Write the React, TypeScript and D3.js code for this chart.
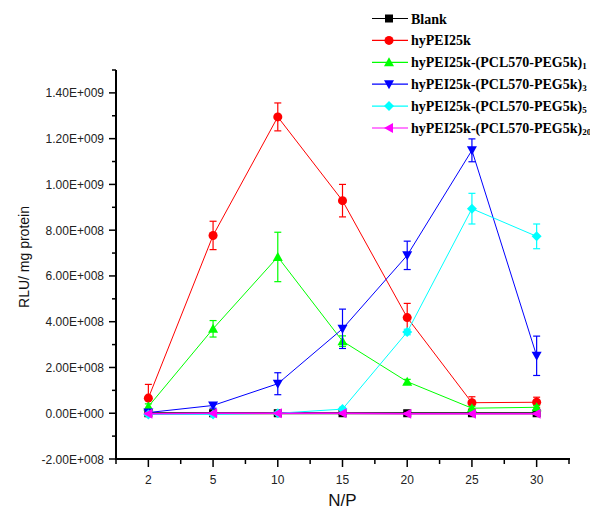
import React from "react";
import * as d3 from "d3";

const categories = ["2", "5", "10", "15", "20", "25", "30"];
const blank = [0, 0, 0, 0, 0, 0, 0];
const blankErr = [0, 0, 0, 0, 0, 0, 0];
const hyPEI = [6.6e7, 7.77e8, 1.295e9, 9.29e8, 4.18e8, 4.6e7, 4.8e7];
const hyPEIErr = [6.0e7, 6.2e7, 6.1e7, 7.1e7, 6.2e7, 2.6e7, 2.2e7];
const n1 = [2.9e7, 3.69e8, 6.83e8, 3.15e8, 1.38e8, 2.2e7, 2.6e7];
const n1Err = [1.2e7, 3.6e7, 1.08e8, 2.3e7, 1.0e7, 8e6, 8e6];
const n3 = [3e6, 3.4e7, 1.29e8, 3.69e8, 6.9e8, 1.149e9, 2.51e8];
const n3Err = [5e6, 1.2e7, 4.8e7, 8.6e7, 6.2e7, 5.0e7, 8.6e7];
const n5 = [-5e6, -5e6, 0, 1.8e7, 3.55e8, 8.94e8, 7.73e8];
const n5Err = [5e6, 5e6, 5e6, 8e6, 1.2e7, 6.7e7, 5.4e7];
const n20 = [-2e6, 0, 0, 0, -2e6, -2e6, -2e6];
const n20Err = [3e6, 3e6, 3e6, 3e6, 3e6, 3e6, 3e6];

const yMajorTicks = [-2e8, 0, 2e8, 4e8, 6e8, 8e8, 1e9, 1.2e9, 1.4e9];
const yTickLabels = ["-2.00E+008", "0.00E+000", "2.00E+008", "4.00E+008", "6.00E+008", "8.00E+008", "1.00E+009", "1.20E+009", "1.40E+009"];
const yMinorTicks = [-1e8, 1e8, 3e8, 5e8, 7e8, 9e8, 1.1e9, 1.3e9, 1.5e9];

type Shape = "square" | "circle" | "up" | "down" | "diamond" | "left";

const series: { name: string; sub: string; color: string; shape: Shape; values: number[]; err: number[]; lw: number }[] = [
  { name: "Blank", sub: "", color: "#000000", shape: "square", values: blank, err: blankErr, lw: 2 },
  { name: "hyPEI25k", sub: "", color: "#ff0000", shape: "circle", values: hyPEI, err: hyPEIErr, lw: 1 },
  { name: "hyPEI25k-(PCL570-PEG5k)", sub: "1", color: "#00ff00", shape: "up", values: n1, err: n1Err, lw: 1 },
  { name: "hyPEI25k-(PCL570-PEG5k)", sub: "3", color: "#0000ff", shape: "down", values: n3, err: n3Err, lw: 1 },
  { name: "hyPEI25k-(PCL570-PEG5k)", sub: "5", color: "#00ffff", shape: "diamond", values: n5, err: n5Err, lw: 1 },
  { name: "hyPEI25k-(PCL570-PEG5k)", sub: "20", color: "#ff00ff", shape: "left", values: n20, err: n20Err, lw: 1.5 },
];

function markerPath(shape: Shape): string {
  switch (shape) {
    case "square":
      return "M-4,-4H4V4H-4Z";
    case "circle":
      return d3.symbol(d3.symbolCircle, 64)() as string;
    case "up":
      return "M0,-5L5,4H-5Z";
    case "down":
      return "M0,5L5,-4H-5Z";
    case "diamond":
      return "M0,-5L5,0L0,5L-5,0Z";
    case "left":
      return "M-5,0L4,-5V5Z";
  }
}

const W = 590;
const H = 518;
const left = 116;
const right = 569;
const top = 70;
const bottom = 459;

export default function App() {
  const x = d3.scalePoint<string>().domain(categories).range([left, right]).padding(0.5);
  const step = x.step();
  const y = d3.scaleLinear().domain([-2e8, 1.5e9]).range([bottom, top]);
  const xMinor = categories.map((c) => (x(c) as number) - step / 2).concat([right]);

  const line = (vals: number[]) =>
    d3
      .line<number>()
      .x((_, i) => x(categories[i]) as number)
      .y((v) => y(v))(vals) as string;

  const legX = 372;
  const legY0 = 18.5;
  const legDy = 21.9;

  return (
    <svg
      width={W}
      height={H}
      style={{ position: "absolute", left: 0, top: 0, background: "#fff" }}
      xmlns="http://www.w3.org/2000/svg"
    >
      <rect x={0} y={0} width={W} height={H} fill="#fff" />
      {/* axes */}
      <line x1={left} x2={left} y1={top} y2={bottom} stroke="#000" strokeWidth={2} />
      <line x1={left - 1} x2={right + 1} y1={bottom} y2={bottom} stroke="#000" strokeWidth={2} />
      {yMajorTicks.map((t, i) => (
        <g key={"ym" + i}>
          <line x1={left - 7} x2={left} y1={y(t)} y2={y(t)} stroke="#000" strokeWidth={1.5} />
          <text
            x={104}
            y={y(t) + 4.5}
            textAnchor="end"
            fontFamily="Liberation Sans, Arial, sans-serif"
            fontSize={12}
            fill="#222"
          >
            {yTickLabels[i]}
          </text>
        </g>
      ))}
      {yMinorTicks.map((t, i) => (
        <line key={"yn" + i} x1={left - 4} x2={left} y1={y(t)} y2={y(t)} stroke="#000" strokeWidth={1.5} />
      ))}
      {categories.map((c) => (
        <g key={"xm" + c}>
          <line x1={x(c)} x2={x(c)} y1={bottom} y2={bottom + 8} stroke="#000" strokeWidth={1.5} />
          <text
            x={x(c)}
            y={bottom + 25}
            textAnchor="middle"
            fontFamily="Liberation Sans, Arial, sans-serif"
            fontSize={12}
            fill="#222"
          >
            {c}
          </text>
        </g>
      ))}
      {xMinor.map((v, i) => (
        <line key={"xn" + i} x1={v} x2={v} y1={bottom} y2={bottom + 5} stroke="#000" strokeWidth={1.5} />
      ))}
      <text
        x={(left + right) / 2}
        y={506}
        textAnchor="middle"
        fontFamily="Liberation Sans, Arial, sans-serif"
        fontSize={17}
        fill="#111"
      >
        N/P
      </text>
      <text
        transform={`translate(29,257) rotate(-90)`}
        textAnchor="middle"
        fontFamily="Liberation Sans, Arial, sans-serif"
        fontSize={14}
        fill="#111"
      >
        RLU/ mg protein
      </text>

      {/* series */}
      {series.map((s, si) => (
        <g key={"s" + si}>
          <path d={line(s.values)} fill="none" stroke={s.color} strokeWidth={s.lw} />
          {s.values.map((v, i) => {
            const cx = x(categories[i]) as number;
            const e = s.err[i];
            if (!e) return null;
            const y1 = y(v + e);
            const y2 = y(v - e);
            return (
              <g key={"e" + i} stroke={s.color} strokeWidth={1.2}>
                <line x1={cx} x2={cx} y1={y1} y2={y2} />
                <line x1={cx - 3.5} x2={cx + 3.5} y1={y1} y2={y1} />
                <line x1={cx - 3.5} x2={cx + 3.5} y1={y2} y2={y2} />
              </g>
            );
          })}
          {s.values.map((v, i) => (
            <path
              key={"m" + i}
              d={markerPath(s.shape)}
              transform={`translate(${x(categories[i])},${y(v)})`}
              fill={s.color}
            />
          ))}
        </g>
      ))}

      {/* legend */}
      {series.map((s, i) => {
        const cy = legY0 + i * legDy;
        return (
          <g key={"l" + i}>
            <line x1={legX} x2={legX + 36} y1={cy} y2={cy} stroke={s.color} strokeWidth={1.2} />
            <path d={markerPath(s.shape)} transform={`translate(${legX + 17},${cy})`} fill={s.color} />
            <text
              x={legX + 39}
              y={cy + 5}
              fontFamily="Liberation Serif, Times New Roman, serif"
              fontWeight="bold"
              fontSize={14}
              fill="#000"
            >
              {s.name}
              {s.sub ? (
                <tspan fontSize={9} dy={2}>
                  {s.sub}
                </tspan>
              ) : null}
            </text>
          </g>
        );
      })}
    </svg>
  );
}
